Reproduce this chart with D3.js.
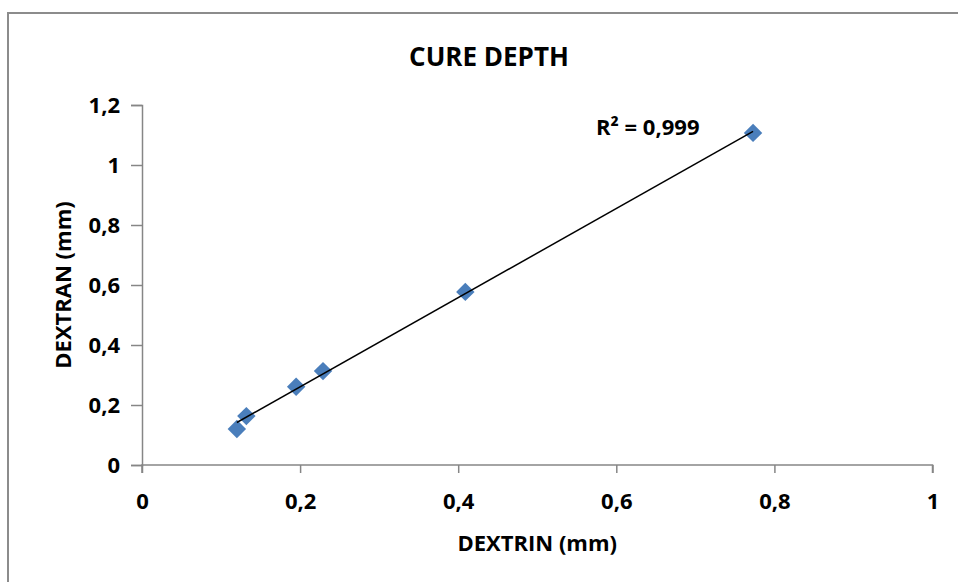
<!DOCTYPE html>
<html>
<head>
<meta charset="utf-8">
<script src="https://cdn.jsdelivr.net/npm/d3@7"></script>
<style>
  html, body { margin: 0; padding: 0; background: #fff; }
  svg { display: block; }
  text { font-family: "Open Sans", sans-serif; font-weight: bold; fill: #000; }
</style>
</head>
<body>
<svg id="chart" width="958" height="582"></svg>
<script>
// values
const dextrin = [0.120, 0.132, 0.195, 0.229, 0.409, 0.773];
const dextran = [0.120, 0.163, 0.261, 0.313, 0.577, 1.107];
const xTicks = [0, 0.2, 0.4, 0.6, 0.8, 1];
const yTicks = [0, 0.2, 0.4, 0.6, 0.8, 1, 1.2];
const rSquaredLabel = "R² = 0,999";

const svg = d3.select("#chart");
const margin = { left: 142, right: 958 - 932.5, top: 105, bottom: 582 - 465 };
const width = 958 - margin.left - margin.right;
const height = 582 - margin.top - margin.bottom;

// outer chart frame (runs off the right/bottom like the screenshot)
svg.append("rect")
    .attr("x", 8).attr("y", 13)
    .attr("width", 1000).attr("height", 1000)
    .attr("fill", "none")
    .attr("stroke", "#8c8c8c")
    .attr("stroke-width", 2);

const g = svg.append("g").attr("transform", `translate(${margin.left},${margin.top})`);

const xscale = d3.scaleLinear().domain([0, 1]).range([0, width]);
const yscale = d3.scaleLinear().domain([0, 1.2]).range([height, 0]);

const fmt = d => String(d).replace(".", ",");

// x axis
const xg = g.append("g")
    .attr("transform", `translate(0,${height})`)
    .call(d3.axisBottom(xscale).tickValues(xTicks).tickFormat(fmt).tickSize(8).tickPadding(20));
// y axis
const yg = g.append("g")
    .call(d3.axisLeft(yscale).tickValues(yTicks).tickFormat(fmt).tickSize(11).tickPadding(11));

[xg, yg].forEach(ax => {
    ax.select(".domain").attr("stroke", "#868686").attr("stroke-width", 1.5);
    ax.selectAll(".tick line").attr("stroke", "#868686").attr("stroke-width", 1.5);
    ax.selectAll("text").style("font-size", "22px").attr("fill", "#000");
});
xg.select(".domain").attr("d", `M0,8V0H${width}V8`);

// trendline: least squares fit over data range
const mx = d3.mean(dextrin), my = d3.mean(dextran);
const slope = d3.sum(dextrin, (x, i) => (x - mx) * (dextran[i] - my)) / d3.sum(dextrin, x => (x - mx) ** 2);
const intercept = my - slope * mx;
const xr = d3.extent(dextrin);

// diamond markers
const diamond = d3.symbol().type(d3.symbolSquare).size(170);
g.selectAll(".pt")
    .data(dextrin.map((x, i) => [x, dextran[i]]))
    .enter()
    .append("path")
    .attr("class", "pt")
    .attr("d", diamond)
    .attr("transform", d => `translate(${xscale(d[0])},${yscale(d[1])}) rotate(45)`)
    .attr("fill", "#4a7ebb");

// trendline drawn over the markers
g.append("path")
    .datum(xr.map(x => [x, intercept + slope * x]))
    .attr("d", d3.line().x(d => xscale(d[0])).y(d => yscale(d[1])))
    .attr("fill", "none")
    .attr("stroke", "#000")
    .attr("stroke-width", 1.5);

// titles
svg.append("text")
    .attr("x", 489).attr("y", 66)
    .attr("text-anchor", "middle")
    .style("font-size", "26px")
    .text("CURE DEPTH");

svg.append("text")
    .attr("x", margin.left + width / 2).attr("y", 551)
    .attr("text-anchor", "middle")
    .style("font-size", "22px")
    .text("DEXTRIN (mm)");

svg.append("text")
    .attr("transform", `translate(71,${margin.top + height / 2}) rotate(-90)`)
    .attr("text-anchor", "middle")
    .style("font-size", "22px")
    .text("DEXTRAN (mm)");

svg.append("text")
    .attr("x", 596).attr("y", 135)
    .style("font-size", "22px")
    .text(rSquaredLabel);
</script>
</body>
</html>
